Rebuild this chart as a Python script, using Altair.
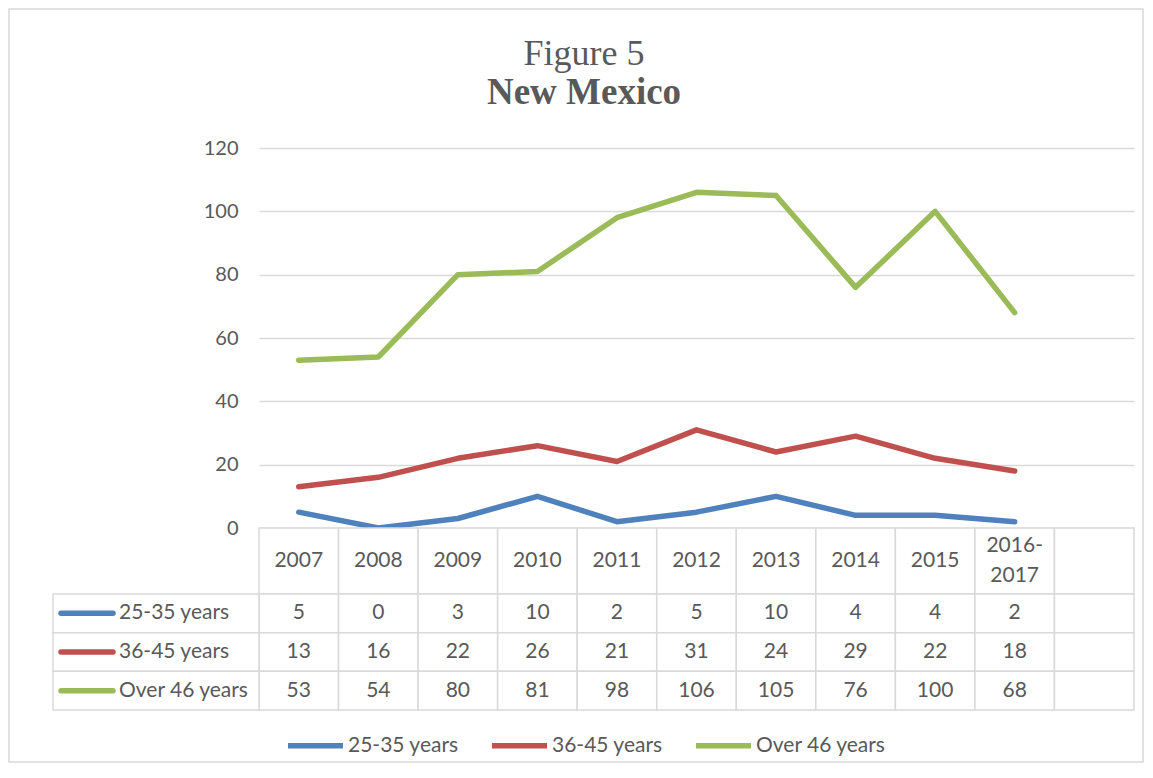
import altair as alt
import pandas as pd

# ---------------- data ----------------
categories = ["2007", "2008", "2009", "2010", "2011", "2012", "2013", "2014", "2015", "2016-2017"]
header_labels = ["2007", "2008", "2009", "2010", "2011", "2012", "2013", "2014", "2015", "2016-\n2017"]
series = ["25-35 years", "36-45 years", "Over 46 years"]
v_25_35 = [5, 0, 3, 10, 2, 5, 10, 4, 4, 2]
v_36_45 = [13, 16, 22, 26, 21, 31, 24, 29, 22, 18]
v_over46 = [53, 54, 80, 81, 98, 106, 105, 76, 100, 68]
colors = ["#4f81bd", "#c0504d", "#9bbb59"]
y_ticks = [0, 20, 40, 60, 80, 100, 120]
title_line1 = "Figure 5"
title_line2 = "New Mexico"
blank = " "

# ---------------- tables ----------------
x_domain = categories + [blank]
values = [v_25_35, v_36_45, v_over46]

rows = []
for s, vals in zip(series, values):
    for i, (c, v) in enumerate(zip(categories, vals)):
        rows.append({"category": c, "series": s, "value": v, "idx": i})
long_df = pd.DataFrame(rows)

cell_rows = []
for s, vals in zip(series, values):
    for c, v in zip(x_domain, vals + [None]):
        cell_rows.append({"category": c, "series": s, "txt": "" if v is None else str(v)})
cells_df = pd.DataFrame(cell_rows)

header_df = pd.DataFrame({"category": x_domain, "label": header_labels + [""]})
header_df["multi"] = header_df["label"].str.contains("\n")
series_df = pd.DataFrame({"series": series})
one = pd.DataFrame({"a": [0]})
titles_df = pd.DataFrame({"t1": [title_line1], "t2": [title_line2]})

# ---------------- style ----------------
FONT = "Lato"
FS = 21
TXT = "#595959"
GRID = "#d9d9d9"
W = 875
H = 380
HEADER_H = 66
TABLE_H = 116
LINE_H = 30

xscale = alt.Scale(type="band", domain=x_domain, paddingInner=0, paddingOuter=0)
cscale = alt.Scale(domain=series, range=colors)

# ---------------- top chart ----------------
border = alt.Chart(one).mark_rect(filled=False, stroke=GRID, strokeWidth=1.5).encode(
    x=alt.value(-250), x2=alt.value(884), y=alt.value(-139), y2=alt.value(614)
)

t1 = alt.Chart(titles_df).mark_text(
    font="Liberation Serif", fontSize=36, color=TXT, align="center", baseline="alphabetic"
).encode(text="t1:N", x=alt.value(325), y=alt.value(-83))

t2 = alt.Chart(titles_df).mark_text(
    font="Liberation Serif", fontSize=37, fontWeight="bold", color=TXT, align="center", baseline="alphabetic"
).encode(text="t2:N", x=alt.value(325), y=alt.value(-44))

lines = alt.Chart(long_df).mark_line(strokeWidth=5.5, strokeCap="round", strokeJoin="round").encode(
    x=alt.X("category:N", scale=xscale, axis=None, bandPosition=0.5),
    y=alt.Y(
        "value:Q",
        scale=alt.Scale(domain=[0, 120], nice=False, zero=True),
        axis=alt.Axis(
            values=y_ticks, title=None, grid=True, gridColor=GRID, gridWidth=1.3,
            domain=False, ticks=False, tickSize=0, labelPadding=21,
            labelFont=FONT, labelFontSize=20, labelColor=TXT,
        ),
    ),
    color=alt.Color(
        "series:N", scale=cscale,
        legend=alt.Legend(
            orient="none", legendX=26, legendY=567, direction="horizontal", title=None,
            symbolType="stroke", symbolStrokeWidth=5.5, symbolSize=3025,
            labelFont=FONT, labelFontSize=FS, labelColor=TXT, labelOffset=2,
            columnPadding=22, padding=0,
        ),
    ),
    order="idx:Q",
)

top = alt.layer(border, t1, t2, lines).properties(width=W, height=H)

# ---------------- header row ----------------
hdr_rect = alt.Chart(header_df).mark_rect(fill="white", stroke=GRID, strokeWidth=1.5).encode(
    x=alt.X("category:N", scale=xscale, axis=None),
    y=alt.value(0), y2=alt.value(HEADER_H),
)
hdr_text_single = alt.Chart(header_df).transform_filter("!datum.multi").mark_text(
    font=FONT, fontSize=FS, color=TXT, align="center", baseline="middle"
).encode(
    x=alt.X("category:N", scale=xscale, axis=None, bandPosition=0.5),
    y=alt.value(HEADER_H / 2),
    text="label:N",
)
hdr_text_multi = alt.Chart(header_df).transform_filter("datum.multi").mark_text(
    font=FONT, fontSize=FS, color=TXT, align="center", baseline="middle",
    lineBreak="\n", lineHeight=LINE_H,
).encode(
    x=alt.X("category:N", scale=xscale, axis=None, bandPosition=0.5),
    y=alt.value(HEADER_H / 2 - LINE_H / 2),
    text="label:N",
)
header = alt.layer(hdr_rect, hdr_text_single, hdr_text_multi).properties(width=W, height=HEADER_H)

# ---------------- data table ----------------
yrow = alt.Scale(type="band", domain=series, paddingInner=0, paddingOuter=0)

cell_rect = alt.Chart(cells_df).mark_rect(fill="white", stroke=GRID, strokeWidth=1.5).encode(
    x=alt.X("category:N", scale=xscale, axis=None),
    y=alt.Y("series:N", scale=yrow, axis=None),
)
cell_text = alt.Chart(cells_df).mark_text(
    font=FONT, fontSize=FS, color=TXT, align="center", baseline="middle"
).encode(
    x=alt.X("category:N", scale=xscale, axis=None, bandPosition=0.5),
    y=alt.Y("series:N", scale=yrow, axis=None, bandPosition=0.5),
    text="txt:N",
)
lab_rect = alt.Chart(series_df).mark_rect(fill="white", stroke=GRID, strokeWidth=1.5).encode(
    x=alt.value(-206), x2=alt.value(0),
    y=alt.Y("series:N", scale=yrow, axis=None),
)
lab_sym = alt.Chart(series_df).mark_rule(strokeWidth=5.5, strokeCap="round").encode(
    x=alt.value(-198), x2=alt.value(-146),
    y=alt.Y("series:N", scale=yrow, axis=None, bandPosition=0.5),
    color=alt.Color("series:N", scale=cscale, legend=None),
)
lab_text = alt.Chart(series_df).mark_text(
    font=FONT, fontSize=FS, color=TXT, align="left", baseline="middle"
).encode(
    x=alt.value(-140),
    y=alt.Y("series:N", scale=yrow, axis=None, bandPosition=0.5),
    text="series:N",
)
table = alt.layer(cell_rect, cell_text, lab_rect, lab_sym, lab_text).properties(width=W, height=TABLE_H)

chart = (
    alt.vconcat(top, header, table, spacing=0, bounds="flush")
    .resolve_scale(color="independent", x="independent", y="independent")
    .resolve_legend(color="independent")
    .properties(padding=0, background="white")
    .configure_view(stroke=None)
)

chart.save("out.html", embed_options={"renderer": "svg", "actions": False})
